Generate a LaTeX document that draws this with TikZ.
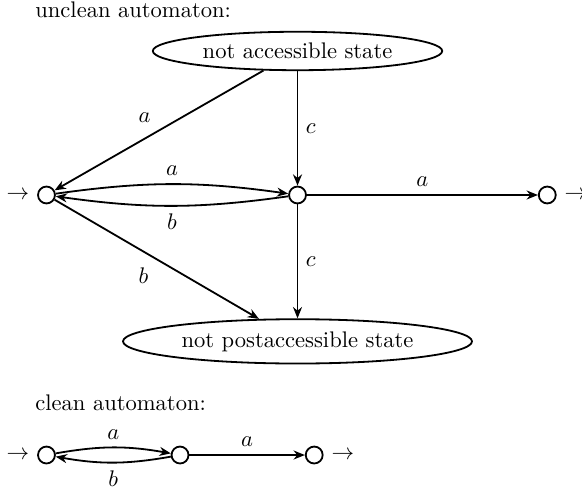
\documentclass[tikz,border=0pt]{standalone}
\usepackage{amsmath, amssymb}
\usetikzlibrary{shapes.geometric, arrows.meta}

\begin{document}
\begin{tikzpicture}[
  state/.style={circle, draw, thick, minimum size=7.5pt, inner sep=0pt},
  bigstate/.style={ellipse, draw, thick, inner ysep=2.5pt},
  trans/.style={-{Stealth[length=5pt, width=4pt]}, thick}
]
  \useasboundingbox (-0.724,-4.579) rectangle (8.341,3.037);

  % unclean automaton
  \node[anchor=base west, inner sep=0pt] (title1) at (-0.18,2.77) {unclean automaton:};
  \node[state] (q0) at (0,0) {};
  \node[state] (q1) at (3.91,0) {};
  \node[state] (q2) at (7.80,0) {};
  \node[bigstate] (na) at (3.91,2.243) {not accessible state};
  \node[bigstate] (np) at (3.91,-2.28) {not postaccessible state};
  \node[left] (in1) at (q0.west) {$\rightarrow$};
  \node[right] (out1) at (q2.east) {$\rightarrow$};

  \draw[trans] (na) -- node[above left] {$a$} (q0);
  \draw[trans] (na) -- node[right] {$c$} (q1);
  \draw[trans] (q0) to[bend left=8] node[above] {$a$} (q1);
  \draw[trans] (q1) to[bend left=8] node[below] {$b$} (q0);
  \draw[trans] (q1) -- node[above] {$a$} (q2);
  \draw[trans] (q1) -- node[right] {$c$} (np);
  \draw[trans] (q0) -- node[below left] {$b$} (np);

  % clean automaton
  \node[anchor=base west, inner sep=0pt] (title2) at (-0.18,-3.35) {clean automaton:};
  \node[state] (p0) at (0,-4.05) {};
  \node[state] (p1) at (2.08,-4.05) {};
  \node[state] (p2) at (4.17,-4.05) {};
  \node[left] (in2) at (p0.west) {$\rightarrow$};
  \node[right] (out2) at (p2.east) {$\rightarrow$};

  \draw[trans] (p0) to[bend left=10] node[above] {$a$} (p1);
  \draw[trans] (p1) to[bend left=10] node[below] {$b$} (p0);
  \draw[trans] (p1) -- node[above] {$a$} (p2);
\end{tikzpicture}
\end{document}
